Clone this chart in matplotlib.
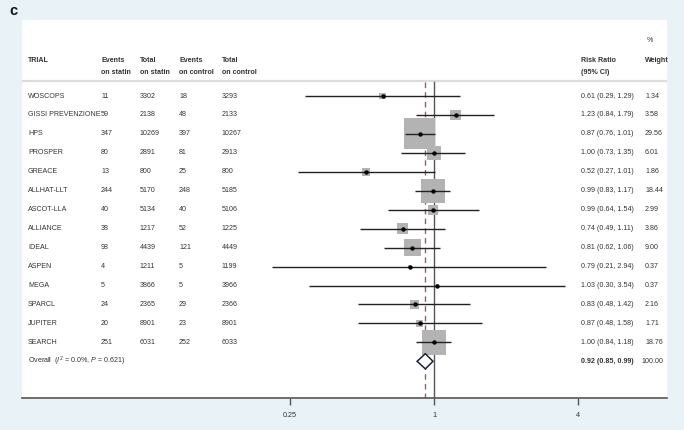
import matplotlib
matplotlib.use("Agg")
import matplotlib.pyplot as plt
import numpy as np
from matplotlib.transforms import blended_transform_factory
from matplotlib.patches import Polygon

plt.rcParams['font.family'] = ['Liberation Sans', 'DejaVu Sans']
plt.rcParams['mathtext.fontset'] = 'custom'
plt.rcParams['mathtext.rm'] = 'Liberation Sans'
plt.rcParams['mathtext.it'] = 'Liberation Sans:italic'

trials = ["WOSCOPS", "GISSI PREVENZIONE", "HPS", "PROSPER", "GREACE", "ALLHAT-LLT",
          "ASCOT-LLA", "ALLIANCE", "IDEAL", "ASPEN", "MEGA", "SPARCL", "JUPITER", "SEARCH"]
events_statin = [11, 59, 347, 80, 13, 244, 40, 38, 98, 4, 5, 24, 20, 251]
total_statin = [3302, 2138, 10269, 2891, 800, 5170, 5134, 1217, 4439, 1211, 3866, 2365, 8901, 6031]
events_control = [18, 48, 397, 81, 25, 248, 40, 52, 121, 5, 5, 29, 23, 252]
total_control = [3293, 2133, 10267, 2913, 800, 5185, 5106, 1225, 4449, 1199, 3966, 2366, 8901, 6033]
rr = [0.61, 1.23, 0.87, 1.00, 0.52, 0.99, 0.99, 0.74, 0.81, 0.79, 1.03, 0.83, 0.87, 1.00]
lo = [0.29, 0.84, 0.76, 0.73, 0.27, 0.83, 0.64, 0.49, 0.62, 0.21, 0.30, 0.48, 0.48, 0.84]
hi = [1.29, 1.79, 1.01, 1.35, 1.01, 1.17, 1.54, 1.11, 1.06, 2.94, 3.54, 1.42, 1.58, 1.18]
weight = [1.34, 3.58, 29.56, 6.01, 1.86, 18.44, 2.99, 3.86, 9.00, 0.37, 0.37, 2.16, 1.71, 18.76]
overall_rr, overall_lo, overall_hi = 0.92, 0.85, 0.99
overall_weight = 100.00
xticks = [0.25, 1, 4]
xticklabels = ["0.25", "1", "4"]

W, H = 684, 430
DPI = 100
fig = plt.figure(figsize=(W / DPI, H / DPI), dpi=DPI)
fig.patch.set_facecolor('#e9f2f7')

# panel pixel bounds
px_l, px_r, py_t, py_b = 22, 667, 20, 398
ax = fig.add_axes([px_l / W, 1 - py_b / H, (px_r - px_l) / W, (py_b - py_t) / H])
ax.set_facecolor('white')
ax.set_xscale('log', base=2)
x1 = 434
ppu = 72.0
ax.set_xlim(2 ** ((px_l - x1) / ppu), 2 ** ((px_r - x1) / ppu))
row0, rstep = 96.0, 18.95
ax.set_ylim((py_b - row0) / rstep, (py_t - row0) / rstep)

for s in ['top', 'left', 'right']:
    ax.spines[s].set_visible(False)
ax.spines['bottom'].set_color('#555555')
ax.spines['bottom'].set_linewidth(1.2)
ax.set_yticks([])
ax.set_xticks(xticks)
ax.set_xticklabels(xticklabels)
ax.xaxis.set_minor_locator(matplotlib.ticker.NullLocator())
ax.tick_params(axis='x', direction='out', length=5, width=1, color='#555555',
               labelsize=5.2, labelcolor='#333333', pad=5)

def ypix(p):
    return (p - row0) / rstep

sep_y = ypix(81)
ax.axhline(sep_y, color='#dcdcdc', lw=1.6, zorder=1)

ylow = ax.get_ylim()[0]
ax.plot([1, 1], [ypix(82), ylow], color='#555555', lw=1.0, zorder=2)
ax.plot([overall_rr] * 2, [ypix(82), ylow], color='#9a5b6b', lw=1.0,
        ls=(0, (4, 3)), zorder=2)

n = len(trials)
ys = np.arange(n)
side_px = 31.0 * np.sqrt(np.array(weight) / 29.56)
sizes = (side_px * 72.0 / DPI) ** 2
ax.scatter(rr, ys, s=sizes, marker='s', color='#b3b3b3', linewidths=0, zorder=3)
ax.hlines(ys, lo, hi, color='#222222', lw=1.0, zorder=4)
ax.scatter(rr, ys, s=10, color='black', zorder=5, linewidths=0)

oy = n
dh = 0.40
diamond = Polygon([[overall_lo, oy], [overall_rr, oy - dh], [overall_hi, oy], [overall_rr, oy + dh]],
                  closed=True, facecolor='white', edgecolor='#1f1f3f', lw=1.1, zorder=6)
ax.add_patch(diamond)

tr = blended_transform_factory(fig.transFigure, ax.transData)
fs = 5.1
tc = '#333333'

def ftext(xp, y, s, **kw):
    kw.setdefault('fontsize', fs)
    kw.setdefault('color', tc)
    ax.text(xp / W, y, s, transform=tr, ha='left', va='center', **kw)

# headers
hy1, hy2 = ypix(60), ypix(72)
ftext(28, hy1, "TRIAL", fontweight='bold')
ftext(101, hy1, "Events", fontweight='bold')
ftext(101, hy2, "on statin", fontweight='bold')
ftext(140, hy1, "Total", fontweight='bold')
ftext(140, hy2, "on statin", fontweight='bold')
ftext(179, hy1, "Events", fontweight='bold')
ftext(179, hy2, "on control", fontweight='bold')
ftext(222, hy1, "Total", fontweight='bold')
ftext(222, hy2, "on control", fontweight='bold')
ftext(581, hy1, "Risk Ratio", fontweight='bold')
ftext(581, hy2, "(95% CI)", fontweight='bold')
ftext(647, ypix(41), "%")
ftext(645, hy1, "Weight", fontweight='bold')

for i in range(n):
    ftext(28, i, trials[i])
    ftext(101, i, str(events_statin[i]))
    ftext(140, i, str(total_statin[i]))
    ftext(179, i, str(events_control[i]))
    ftext(222, i, str(total_control[i]))
    ftext(581, i, f"{rr[i]:.2f} ({lo[i]:.2f}, {hi[i]:.2f})")
    ftext(645, i, f"{weight[i]:.2f}")

ftext(28, oy, r"Overall  ($I^2$ = 0.0%, $P$ = 0.621)")
ftext(581, oy, f"{overall_rr:.2f} ({overall_lo:.2f}, {overall_hi:.2f})", fontweight='bold')
ftext(642, oy, f"{overall_weight:.2f}")

fig.text(9 / W, 1 - 11 / H, "c", fontsize=10.5, fontweight='bold', color='#111111',
         ha='left', va='center')

fig.savefig("out.png", dpi=DPI, facecolor=fig.get_facecolor())
